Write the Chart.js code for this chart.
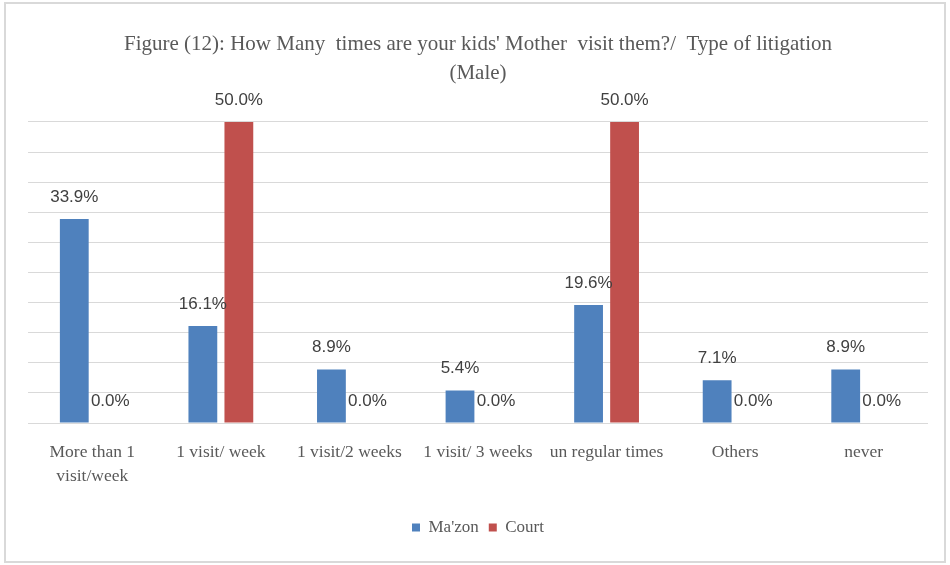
<!DOCTYPE html>
<html>
<head>
<meta charset="utf-8">
<script src="https://cdn.jsdelivr.net/npm/chart.js"></script>
<style>
  html, body { margin: 0; padding: 0; background: #fff; }
  #wrap { position: relative; width: 950px; height: 565px; }
</style>
</head>
<body>
<div id="wrap"><canvas id="chart" width="950" height="565"></canvas></div>
<script>
// visit frequency categories and shares per litigation type (%)
const categories = [
    ["More than 1", "visit/week"],
    "1 visit/ week",
    "1 visit/2 weeks",
    "1 visit/ 3 weeks",
    "un regular times",
    "Others",
    "never"
];
const mazonValues = [33.9, 16.1, 8.9, 5.4, 19.6, 7.1, 8.9];
const courtValues = [0.0, 50.0, 0.0, 0.0, 50.0, 0.0, 0.0];
const seriesNames = ["Ma'zon", "Court"];

const SERIF = "'Liberation Serif', 'Times New Roman', serif";
const LABEL_FONT = "'Liberation Sans Narrow', 'Liberation Sans', Arial, sans-serif";

// light grey frame round the whole figure
const framePlugin = {
    id: "frame",
    beforeDraw(chart) {
        const ctx = chart.ctx;
        ctx.save();
        ctx.fillStyle = "#ffffff";
        ctx.fillRect(0, 0, chart.width, chart.height);
        ctx.strokeStyle = "#d9d9d9";
        ctx.lineWidth = 2;
        ctx.strokeRect(5, 3, 940, 559);
        ctx.restore();
    }
};

// percentage labels above each bar
const valueLabels = {
    id: "valueLabels",
    afterDatasetsDraw(chart) {
        const ctx = chart.ctx;
        ctx.save();
        ctx.font = "17px " + LABEL_FONT;
        ctx.fillStyle = "#404040";
        ctx.textAlign = "center";
        ctx.textBaseline = "middle";
        chart.data.datasets.forEach((ds, i) => {
            chart.getDatasetMeta(i).data.forEach((bar, j) => {
                ctx.fillText(ds.data[j].toFixed(1) + "%", bar.x, bar.y - 22);
            });
        });
        ctx.restore();
    }
};

new Chart(document.getElementById("chart"), {
    type: "bar",
    data: {
        labels: categories,
        datasets: [
            { label: seriesNames[0], data: mazonValues, backgroundColor: "#4f81bd" },
            { label: seriesNames[1], data: courtValues, backgroundColor: "#c0504d" }
        ]
    },
    plugins: [framePlugin, valueLabels],
    options: {
        responsive: false,
        animation: false,
        categoryPercentage: 0.56,
        barPercentage: 0.8,
        layout: {
            padding: { left: 28, right: 22, top: 8, bottom: 19 }
        },
        scales: {
            x: {
                grid: { display: false },
                border: { display: false },
                ticks: {
                    color: "#595959",
                    font: { family: SERIF, size: 17.5, lineHeight: 1.4 },
                    padding: 9,
                    maxRotation: 0,
                    autoSkip: false
                },
                // extra room between the category names and the legend
                afterFit(scale) { scale.height += 11; }
            },
            y: {
                min: 0,
                max: 50,
                grid: { color: "#d9d9d9", lineWidth: 1, drawTicks: false },
                border: { display: false },
                ticks: { display: false, stepSize: 5 }
            }
        },
        plugins: {
            title: {
                display: true,
                text: ["Figure (12): How Many  times are your kids' Mother  visit them?/  Type of litigation", "(Male)"],
                color: "#595959",
                font: { family: SERIF, size: 21, weight: "normal", lineHeight: 1.38 },
                padding: { top: 22, bottom: 34 }
            },
            legend: {
                position: "bottom",
                labels: {
                    color: "#595959",
                    font: { family: SERIF, size: 17 },
                    usePointStyle: true,
                    pointStyle: "rect",
                    boxWidth: 8,
                    boxHeight: 8,
                    padding: 10
                }
            },
            tooltip: { enabled: false }
        }
    }
});
</script>
</body>
</html>
